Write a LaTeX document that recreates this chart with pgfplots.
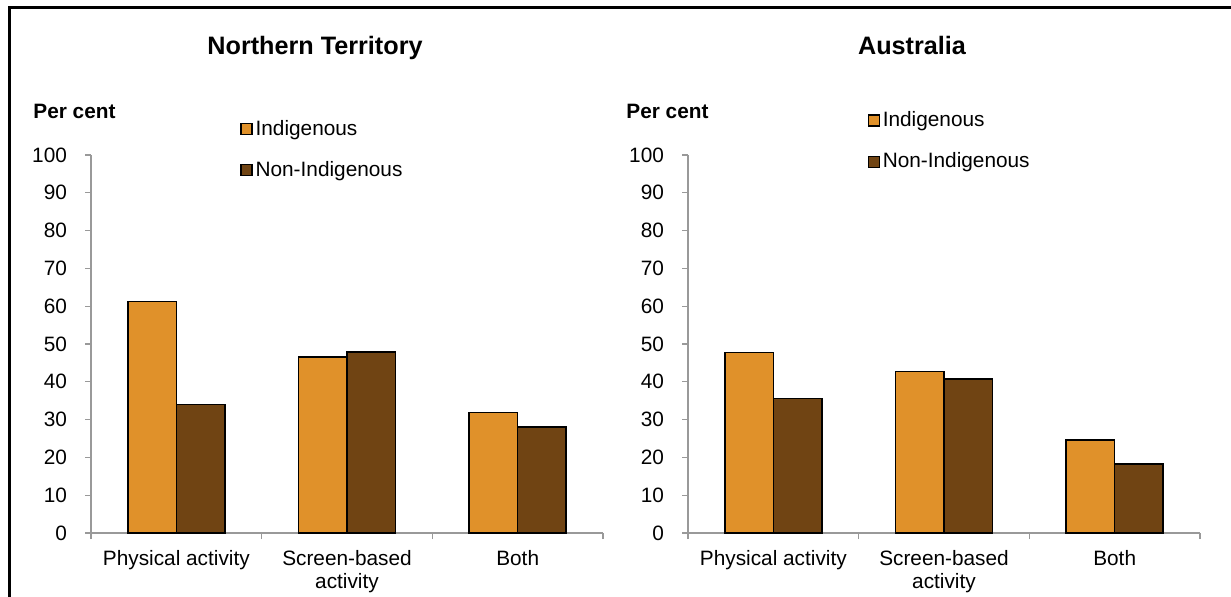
\documentclass[border=0pt]{standalone}
\usepackage{pgfplots}
\pgfplotsset{compat=1.18}
\usepackage{fontspec}
\setmainfont{Liberation Sans}
\definecolor{indig}{HTML}{E0912A}
\definecolor{nonind}{HTML}{704413}
\definecolor{axgrey}{HTML}{999999}
\newcommand\lab{\fontsize{10.4pt}{11.6pt}\selectfont}
\pgfplotsset{
  mybar/.style={
    scale only axis,
    width=256pt, height=189pt,
    anchor=south west,
    ybar=0pt, bar width=24.25pt,
    ymin=0, ymax=100, ytick={0,10,...,100},
    xmin=-0.5, xmax=2.5,
    xtick={-0.5,0.5,1.5,2.5},
    xticklabels={},
    extra x ticks={0,1,2},
    extra x tick labels={Physical activity,{Screen-based\\activity},Both},
    extra x tick style={major tick length=0pt, tick style={draw=none}},
    axis x line*=bottom, axis y line*=left,
    axis line style={axgrey, line width=0.7pt, -},
    tick style={axgrey, line width=0.6pt},
    major tick length=3pt,
    tick align=outside,
    xticklabel style={align=center, font=\lab, yshift=-5pt},
    yticklabel style={font=\lab, xshift=-5.5pt},
    /pgf/number format/assume math mode=true,
    legend cell align=left,
    legend image code/.code={\draw[#1,draw=black,line width=0.6pt] (0pt,-2.75pt) rectangle (5.5pt,2.75pt);},
  }
}
\begin{document}
\begin{tikzpicture}
\useasboundingbox (0,0) rectangle (615.5pt,298pt);
\draw[line width=1.5pt] (4.75pt,-2pt) -- (4.75pt,294.25pt) -- (620pt,294.25pt);
\node[anchor=base, inner sep=0pt, font=\fontsize{12.6pt}{14pt}\selectfont\bfseries] at (157.5pt,270.5pt) {Northern Territory};
\node[anchor=base, inner sep=0pt, font=\fontsize{12.6pt}{14pt}\selectfont\bfseries] at (456pt,270.5pt) {Australia};
\node[anchor=base west, inner sep=0pt, font=\lab\bfseries] at (16.5pt,239pt) {Per cent};
\node[anchor=base west, inner sep=0pt, font=\lab\bfseries] at (313pt,239pt) {Per cent};

\begin{axis}[mybar, at={(45.5pt,31.5pt)},
  legend style={at={(0.291,1.101)}, anchor=north west, draw=none, fill=none, inner sep=0pt,
    font=\lab, row sep=8.5pt, nodes={inner sep=1.5pt}}]
\addplot[fill=indig, draw=black, line width=0.75pt] coordinates {(0,61.2) (1,46.5) (2,31.9)};
\addplot[fill=nonind, draw=black, line width=0.75pt] coordinates {(0,34.0) (1,47.9) (2,28.0)};
\legend{Indigenous,Non-Indigenous}
\end{axis}

\begin{axis}[mybar, at={(344pt,31.5pt)},
  legend style={at={(0.350,1.124)}, anchor=north west, draw=none, fill=none, inner sep=0pt,
    font=\lab, row sep=8.5pt, nodes={inner sep=1.5pt}}]
\addplot[fill=indig, draw=black, line width=0.75pt] coordinates {(0,47.7) (1,42.7) (2,24.6)};
\addplot[fill=nonind, draw=black, line width=0.75pt] coordinates {(0,35.6) (1,40.7) (2,18.2)};
\legend{Indigenous,Non-Indigenous}
\end{axis}
\end{tikzpicture}
\end{document}
